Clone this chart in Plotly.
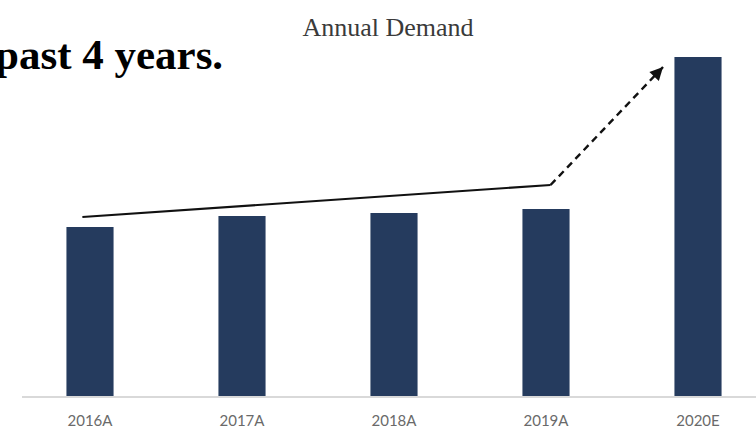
import plotly.graph_objects as go

# ---- data ----
categories = ["2016A", "2017A", "2018A", "2019A", "2020E"]
demand = [169, 180, 183, 187, 339]

# trend arrow anchor points (data units: x = category index, y = demand units)
trend_solid_x = [-0.05, 3.03]
trend_solid_y = [179, 211]
trend_dash_x = [3.03, 3.77]
trend_dash_y = [211, 329]

chart_title = "Annual Demand"
headline = "past 4 years."

W, H = 756, 429
L, B = 22, 33
plot_w = W - L
plot_h = H - B
px_per_cat = 152.0
center0 = 90.0

x_lo = (L - center0) / px_per_cat
x_hi = (W - center0) / px_per_cat

fig = go.Figure()

fig.add_trace(go.Bar(
    x=list(range(len(categories))),
    y=demand,
    width=0.31,
    marker=dict(color="#253b5e", line=dict(width=0)),
    hoverinfo="skip",
    showlegend=False,
))

fig.add_trace(go.Scatter(
    x=trend_solid_x, y=trend_solid_y, mode="lines",
    line=dict(color="#111111", width=2.2),
    hoverinfo="skip", showlegend=False,
))
fig.add_trace(go.Scatter(
    x=trend_dash_x, y=trend_dash_y, mode="lines",
    line=dict(color="#111111", width=2.4, dash="7px,5px"),
    hoverinfo="skip", showlegend=False,
))

# arrow head
fig.add_annotation(
    x=trend_dash_x[-1], y=trend_dash_y[-1], xref="x", yref="y",
    ax=-10, ay=10.6, showarrow=True, arrowhead=2, arrowsize=1.3,
    arrowwidth=2, arrowcolor="#111111", text="", standoff=0,
)

# headline text (cropped sentence, as in the reference)
fig.add_annotation(
    x=(225 - L) / plot_w, y=1 - 55 / plot_h, xref="paper", yref="paper",
    text="<b>" + headline + "</b>", showarrow=False,
    xanchor="right", yanchor="middle",
    font=dict(family="Liberation Serif", size=43, color="#000000"),
)

fig.update_layout(
    width=W, height=H,
    margin=dict(l=L, r=0, t=0, b=B, pad=0, autoexpand=False),
    paper_bgcolor="white", plot_bgcolor="white",
    title=dict(
        text=chart_title, x=388 / W, xanchor="center",
        y=1 - 27 / H, yanchor="middle", yref="container",
        font=dict(family="Liberation Serif", size=26, color="#3a3a3a"),
    ),
    xaxis=dict(
        range=[x_lo, x_hi],
        tickmode="array",
        tickvals=list(range(len(categories))),
        ticktext=categories,
        showgrid=False, zeroline=False,
        showline=True, linecolor="#d9d9d9", linewidth=1.5,
        ticks="", ticklabelstandoff=10,
        tickfont=dict(family="Lato", size=15, color="#6a6a6a"),
        automargin=False,
        fixedrange=True,
    ),
    yaxis=dict(
        range=[0, plot_h],
        visible=False, showgrid=False, zeroline=False,
        automargin=False,
        fixedrange=True,
    ),
)

fig.write_html("out.html")
